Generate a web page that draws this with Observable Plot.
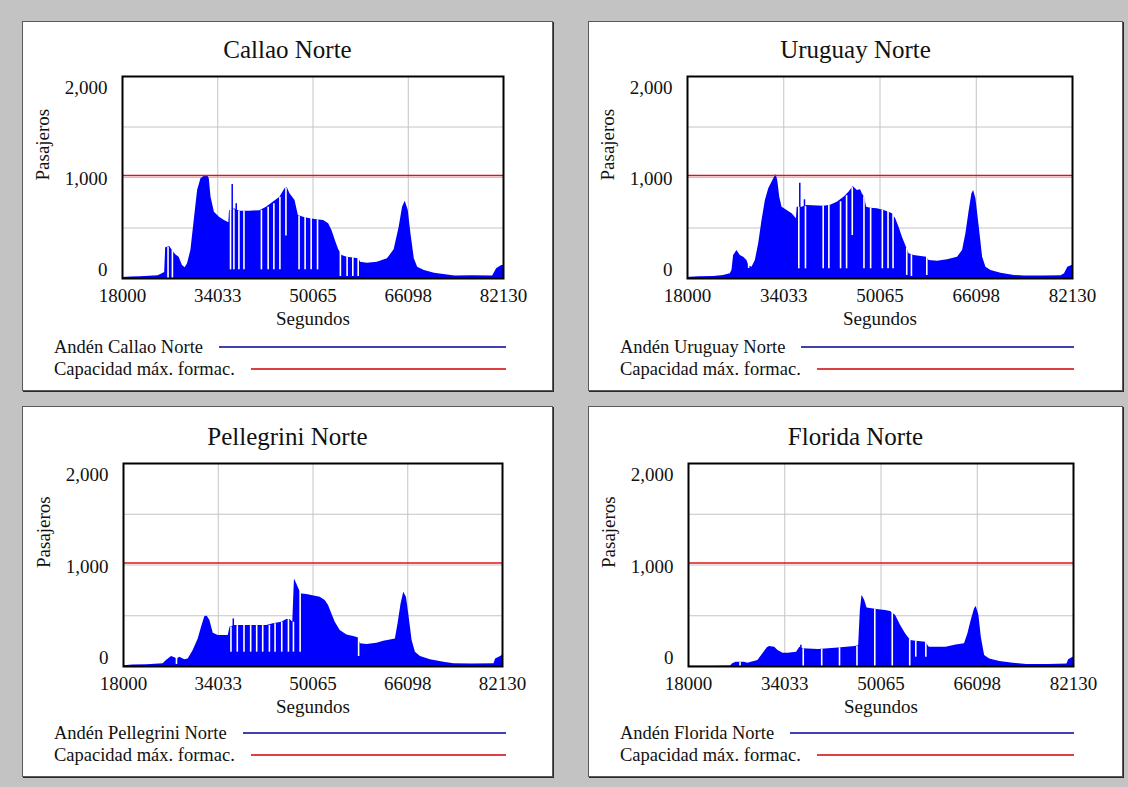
<!DOCTYPE html>
<html>
<head>
<meta charset="utf-8">
<script src="https://cdn.jsdelivr.net/npm/d3@7"></script>
<script src="https://cdn.jsdelivr.net/npm/@observablehq/plot@0.6"></script>
<style>
  html, body { margin: 0; padding: 0; }
  body { width: 1128px; height: 787px; background: #c3c3c3; position: relative; overflow: hidden;
         font-family: "Liberation Serif", "Times New Roman", serif; color: #111; }
  .panel { position: absolute; background: #fff;
           box-shadow: 0 0 0 1px #5a5a5a, 1px 1px 0 1px #2a2a2a; }
  .panel svg { position: absolute; left: 0; top: 0; }
  .title { position: absolute; left: 0; width: 100%; text-align: center; font-size: 25px; line-height: 32px; }
  .legend { position: absolute; font-size: 18.5px; }
  .row { display: flex; align-items: center; height: 22px; line-height: 22px; }
  .row .sw { flex: 1; height: 2px; margin-left: 16px; }
</style>
</head>
<body>
<script>
// ---------- data ----------
const xTicks = [18000, 34033, 50065, 66098, 82130];
const yTicks = [0, 1000, 2000];
const yGrid = [500, 1000, 1500];
const capacidad = 1020;
const titles = ["Callao Norte", "Uruguay Norte", "Pellegrini Norte", "Florida Norte"];
const legendSeries = ["Andén Callao Norte", "Andén Uruguay Norte", "Andén Pellegrini Norte", "Andén Florida Norte"];
const legendCap = "Capacidad máx. formac.";

// [segundos, pasajeros]
const callaoSeries = [[18000,10],[19500,15],[21000,18],[22500,22],[24000,28],[24700,46],[25100,60],[25268,304],[25946,317],[26399,277],[26964,234],[27530,211],[28095,129],[28548,106],[28943,145],[29509,277],[30074,574],[30640,871],[31205,987],[31771,1013],[32336,1020],[32600,990],[32902,805],[33468,657],[34316,607],[35164,574],[35899,551],[36012,673],[36465,673],[36861,690],[37709,667],[39405,667],[41102,672],[42233,706],[43364,756],[44495,805],[45343,888],[45739,898],[46191,838],[47040,772],[47605,624],[48455,607],[49584,591],[50715,581],[51846,575],[52695,541],[53260,475],[53826,376],[54391,284],[54957,228],[55805,211],[57784,195],[58067,162],[59198,152],[60894,162],[62591,195],[63722,284],[64570,508],[65136,706],[65585,766],[66098,673],[66551,442],[67116,195],[67682,112],[68813,79],[70508,53],[73336,30],[74000,25],[77000,28],[80300,25],[80970,96],[81818,129],[82130,129]];
// [segundos, pico]
const callaoSpikes = [[36465,931],[37143,739]];
// [segundos, desde, hasta]
const callaoGaps = [[25664,0,310],[26399,0,277],[36182,86,673],[36747,86,680],[37596,86,667],[38444,86,667],[41385,86,675],[42516,86,706],[43477,86,740],[44495,86,805],[45513,420,893],[47718,86,620],[48737,86,605],[49754,86,595],[50829,86,581],[54674,20,260],[55805,20,211],[56766,20,205],[57671,20,197]];

const uruguaySeries = [[18000,10],[18445,13],[20000,18],[22342,20],[24000,30],[25126,46],[25404,79],[25682,228],[26239,277],[26796,228],[27353,211],[27909,178],[28188,129],[28744,112],[29301,178],[29858,343],[30414,574],[30971,772],[31528,888],[32363,987],[32753,1030],[33031,970],[33365,805],[33755,706],[34590,673],[35425,640],[36148,591],[36260,706],[37095,706],[37930,722],[40713,716],[41827,726],[42940,756],[44054,805],[44889,855],[45612,911],[46002,888],[46280,871],[46837,878],[47115,838],[47505,805],[47839,706],[48507,696],[49621,690],[50734,673],[51569,657],[52126,640],[52682,591],[53239,508],[53796,409],[54353,327],[54909,244],[55744,228],[57860,211],[58249,178],[59641,172],[61311,185],[62981,211],[63816,277],[64373,442],[64930,673],[65375,838],[65654,871],[66044,789],[66600,508],[67157,211],[67714,112],[68549,79],[70218,53],[72445,30],[74115,25],[77000,25],[80239,28],[80796,46],[81352,112],[82020,129],[82130,129]];
const uruguaySpikes = [[36705,944],[37485,779]];
const uruguayGaps = [[28188,100,140],[36538,96,706],[37652,96,712],[40602,96,716],[41548,96,722],[43497,96,760],[44499,96,820],[45445,426,900],[47394,96,810],[48507,96,696],[50456,96,676],[51402,96,665],[52237,96,630],[54520,30,300],[55299,20,236],[57860,30,211]];

const pellegriniSeries = [[18000,8],[19613,16],[22000,18],[24702,26],[25268,59],[26116,98],[26681,85],[27077,75],[27530,92],[28378,66],[28943,75],[29792,157],[30640,272],[31205,387],[31771,492],[32167,495],[32619,453],[33185,328],[34033,305],[35730,305],[36012,387],[36861,403],[37709,403],[42233,403],[43364,420],[44778,436],[45626,462],[46191,462],[46644,436],[46926,863],[47322,814],[47700,760],[48171,715],[49019,709],[51281,682],[52129,650],[52695,600],[53260,518],[53826,436],[54674,354],[55805,311],[56936,295],[57784,282],[58067,223],[59198,216],[60894,230],[62025,249],[63156,262],[64004,272],[64457,420],[64966,617],[65418,731],[65870,682],[66266,518],[66832,256],[67397,141],[68245,98],[69942,66],[72204,43],[73901,26],[77000,25],[80687,28],[80970,75],[81818,98],[82130,110]];
const pellegriniSpikes = [[36578,469]];
const pellegriniGaps = [[26964,20,80],[36182,141,390],[37256,141,403],[38387,141,403],[39518,141,403],[40536,141,403],[41554,141,403],[42685,141,405],[43646,141,420],[44778,141,436],[45909,141,462],[46757,141,436],[47888,141,800],[57784,98,282]];

const floridaSeries = [[18000,3],[22000,3],[25000,5],[25359,26],[25919,43],[27318,43],[27877,33],[29556,59],[30396,125],[31123,184],[31515,197],[32354,190],[32914,157],[33753,131],[34593,131],[35992,141],[36551,190],[37111,174],[39629,167],[42427,180],[45785,197],[46344,207],[46624,551],[46904,699],[47016,690],[47352,650],[47743,577],[48583,568],[49702,558],[50821,551],[51660,541],[52500,502],[53339,403],[54179,321],[55018,256],[55857,249],[57536,240],[58096,190],[60894,190],[62573,213],[63972,223],[64531,321],[65091,453],[65650,568],[65930,591],[66378,502],[66770,289],[67329,108],[68169,75],[69848,49],[72086,33],[74324,20],[78000,20],[81040,25],[81320,66],[82047,92],[82130,92]];
const floridaSpikes = [[36719,210]];
const floridaGaps = [[26590,0,43],[37111,0,174],[40189,0,170],[43155,0,185],[46064,0,200],[49030,0,565],[51940,0,535],[54850,0,265],[55857,92,249],[57536,92,240]];

// ---------- layout ----------
const boxes = [
  {left: 23,  top: 22,  width: 529, height: 368, mL: 99, mR: 49, mT: 54, h: 310, titleTop: 12, legTop: 314, legRight: 46},
  {left: 589, top: 22,  width: 533, height: 368, mL: 98, mR: 50, mT: 54, h: 310, titleTop: 12, legTop: 314, legRight: 48},
  {left: 23,  top: 407, width: 529, height: 369, mL: 100, mR: 50, mT: 56, h: 313, titleTop: 14, legTop: 315, legRight: 46},
  {left: 589, top: 407, width: 533, height: 369, mL: 99, mR: 49, mT: 56, h: 313, titleTop: 14, legTop: 315, legRight: 48}
];
const seriesList = [callaoSeries, uruguaySeries, pellegriniSeries, floridaSeries];
const spikesList = [callaoSpikes, uruguaySpikes, pellegriniSpikes, floridaSpikes];
const gapsList = [callaoGaps, uruguayGaps, pellegriniGaps, floridaGaps];

const BLUE = "#0000ff", RED = "#e01414";
const yOffsets = {2000: 11, 1000: 1.5, 0: -9};

boxes.forEach((b, i) => {
  const panel = document.createElement("div");
  panel.className = "panel";
  Object.assign(panel.style, {left: b.left + "px", top: b.top + "px", width: b.width + "px", height: b.height + "px"});

  const fmt = d3.format(",");
  const plot = Plot.plot({
    width: b.width,
    height: b.h,
    marginLeft: b.mL,
    marginRight: b.mR,
    marginTop: b.mT,
    marginBottom: 54,
    style: {fontFamily: "'Liberation Serif', 'Times New Roman', serif", fontSize: "19px", color: "#111", background: "transparent", overflow: "visible"},
    x: {domain: [18000, 82130]},
    y: {domain: [0, 2000]},
    marks: [
      Plot.gridX(xTicks.slice(1, -1), {stroke: "#c4c4c4", strokeOpacity: 1, strokeWidth: 1}),
      Plot.gridY(yGrid, {stroke: "#c4c4c4", strokeOpacity: 1, strokeWidth: 1}),
      Plot.areaY(seriesList[i], {x: d => d[0], y: d => d[1], fill: BLUE, curve: "linear"}),
      Plot.ruleX(spikesList[i], {x: d => d[0], y1: 0, y2: d => d[1], stroke: BLUE, strokeWidth: 1.5}),
      Plot.ruleX(gapsList[i], {x: d => d[0], y1: d => d[1], y2: d => d[2], stroke: "#fff", strokeWidth: 1.6}),
      Plot.ruleY([capacidad], {stroke: RED, strokeWidth: 1.5}),
      Plot.frame({stroke: "#000", strokeWidth: 2}),
      Plot.axisX(xTicks, {tickSize: 0, tickPadding: 10, tickFormat: d => String(d), fontSize: 19, label: null}),
      ...yTicks.map(t => Plot.axisY([t], {tickSize: 0, tickPadding: 15, tickFormat: fmt, fontSize: 19, dy: yOffsets[t], label: null})),
      Plot.text(["Segundos"], {text: d => d, frameAnchor: "bottom", dy: 40, lineAnchor: "middle", fontSize: 19}),
      Plot.text(["Pasajeros"], {text: d => d, frameAnchor: "left", rotate: -90, dx: -80, dy: 3, lineAnchor: "middle", fontSize: 19})
    ]
  });
  panel.appendChild(plot);

  const title = document.createElement("div");
  title.className = "title";
  title.style.top = b.titleTop + "px";
  title.textContent = titles[i];
  panel.appendChild(title);

  const legend = document.createElement("div");
  legend.className = "legend";
  Object.assign(legend.style, {left: "31px", top: b.legTop + "px", width: (b.width - 31 - b.legRight) + "px"});
  const rows = [[legendSeries[i], "#4040b0"], [legendCap, "#dc4040"]];
  rows.forEach(([txt, col]) => {
    const r = document.createElement("div");
    r.className = "row";
    const s = document.createElement("span");
    s.textContent = txt;
    const sw = document.createElement("div");
    sw.className = "sw";
    sw.style.background = col;
    r.appendChild(s); r.appendChild(sw);
    legend.appendChild(r);
  });
  panel.appendChild(legend);

  document.body.appendChild(panel);
});
</script>
</body>
</html>
